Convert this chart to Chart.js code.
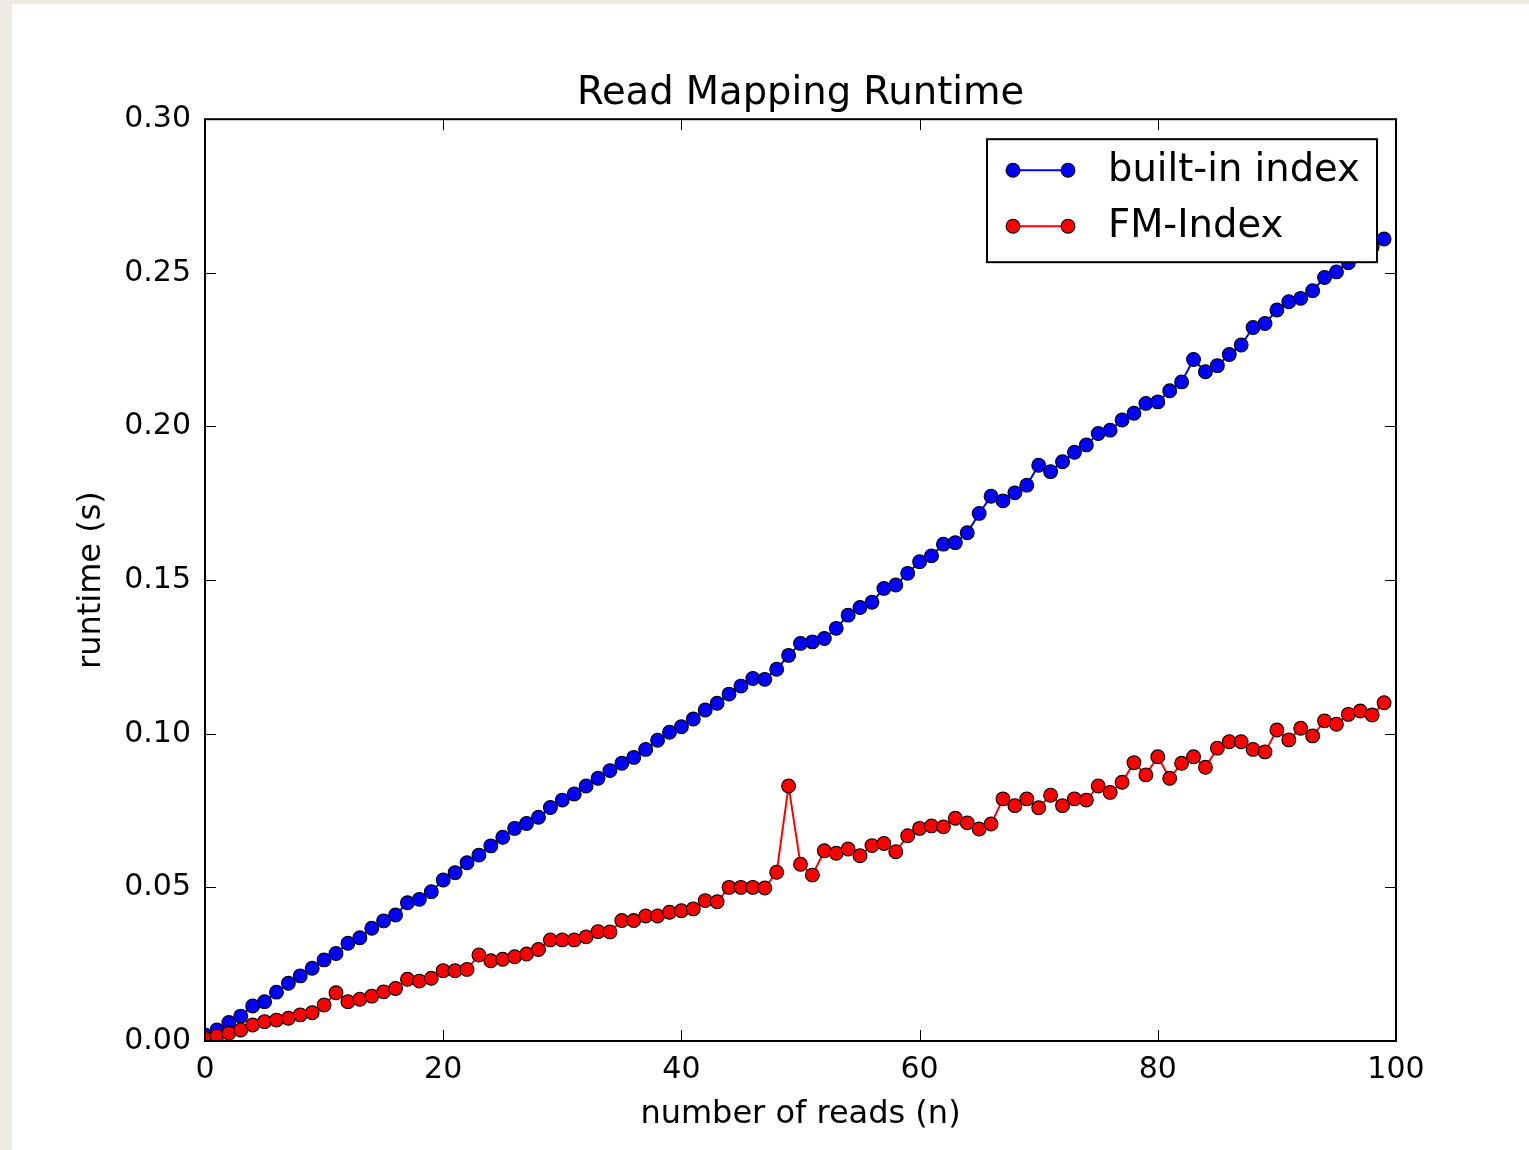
<!DOCTYPE html>
<html>
<head>
<meta charset="utf-8">
<title>Read Mapping Runtime</title>
<script src="https://cdn.jsdelivr.net/npm/chart.js@4.4.1/dist/chart.umd.min.js"></script>
<style>
    html, body { margin: 0; padding: 0; background: #edebe4; }
    #frame { position: absolute; left: 12px; top: 4px; width: 1517px; height: 1146px; background: #ffffff; }
    #runtimeChart { display: block; }
</style>
</head>
<body>
<div id="frame"><canvas id="runtimeChart" width="1517" height="1146"></canvas></div>
<script>
// number of reads (x) and runtimes in seconds
const reads = [
    0, 1, 2, 3, 4, 5, 6, 7, 8, 9, 10, 11, 12, 13, 14, 15, 16, 17, 18, 19,
    20, 21, 22, 23, 24, 25, 26, 27, 28, 29, 30, 31, 32, 33, 34, 35, 36, 37, 38, 39,
    40, 41, 42, 43, 44, 45, 46, 47, 48, 49, 50, 51, 52, 53, 54, 55, 56, 57, 58, 59,
    60, 61, 62, 63, 64, 65, 66, 67, 68, 69, 70, 71, 72, 73, 74, 75, 76, 77, 78, 79,
    80, 81, 82, 83, 84, 85, 86, 87, 88, 89, 90, 91, 92, 93, 94, 95, 96, 97, 98, 99
];

const builtInIndex = [
    0.0020, 0.0036, 0.0060, 0.0081, 0.0114, 0.0128, 0.0159, 0.0188, 0.0212, 0.0237,
    0.0264, 0.0285, 0.0318, 0.0336, 0.0367, 0.0391, 0.0410, 0.0450, 0.0461, 0.0486,
    0.0524, 0.0548, 0.0580, 0.0605, 0.0635, 0.0663, 0.0692, 0.0708, 0.0728, 0.0760,
    0.0784, 0.0804, 0.0830, 0.0855, 0.0880, 0.0904, 0.0923, 0.0949, 0.0979, 0.1005,
    0.1023, 0.1048, 0.1077, 0.1099, 0.1129, 0.1155, 0.1180, 0.1177, 0.1210, 0.1255,
    0.1294, 0.1299, 0.1310, 0.1343, 0.1386, 0.1411, 0.1428, 0.1473, 0.1484, 0.1522,
    0.1560, 0.1579, 0.1617, 0.1622, 0.1654, 0.1717, 0.1773, 0.1758, 0.1784, 0.1809,
    0.1874, 0.1853, 0.1885, 0.1916, 0.1940, 0.1977, 0.1988, 0.2021, 0.2043, 0.2075,
    0.2080, 0.2116, 0.2145, 0.2218, 0.2178, 0.2198, 0.2234, 0.2265, 0.2322, 0.2335,
    0.2379, 0.2406, 0.2417, 0.2442, 0.2485, 0.2503, 0.2533, 0.2560, 0.2585, 0.2610
];

const fmIndex = [
    0.0009, 0.0016, 0.0025, 0.0036, 0.0052, 0.0063, 0.0068, 0.0074, 0.0085, 0.0092,
    0.0117, 0.0157, 0.0128, 0.0136, 0.0146, 0.0160, 0.0171, 0.0201, 0.0195, 0.0204,
    0.0229, 0.0229, 0.0233, 0.0280, 0.0261, 0.0266, 0.0274, 0.0283, 0.0298, 0.0329,
    0.0329, 0.0329, 0.0339, 0.0356, 0.0355, 0.0392, 0.0392, 0.0407, 0.0407, 0.0419,
    0.0424, 0.0430, 0.0457, 0.0453, 0.0500, 0.0500, 0.0500, 0.0498, 0.0549, 0.0830,
    0.0575, 0.0540, 0.0619, 0.0611, 0.0625, 0.0603, 0.0636, 0.0643, 0.0616, 0.0668,
    0.0692, 0.0700, 0.0697, 0.0725, 0.0710, 0.0690, 0.0706, 0.0788, 0.0766, 0.0788,
    0.0759, 0.0800, 0.0766, 0.0788, 0.0784, 0.0830, 0.0809, 0.0842, 0.0906, 0.0866,
    0.0925, 0.0855, 0.0904, 0.0925, 0.0891, 0.0953, 0.0974, 0.0974, 0.0949, 0.0941,
    0.1012, 0.0980, 0.1018, 0.0993, 0.1042, 0.1031, 0.1063, 0.1074, 0.1061, 0.1101
];

const xTicks = [0, 20, 40, 60, 80, 100];
const yTicks = [0, 0.05, 0.10, 0.15, 0.20, 0.25, 0.30];

const FONT = 'DejaVu Sans';
Chart.defaults.color = '#000';
Chart.defaults.font.family = FONT;

function toPoints(xs, ys) {
    return xs.map((x, i) => ({ x: x, y: ys[i] }));
}

// matplotlib-style box: frame on four sides plus inward tick marks
const frameAndTicks = {
    id: 'frameAndTicks',
    afterDatasetsDraw(chart) {
        const { ctx, chartArea: a, scales: { x, y } } = chart;
        const len = 11;
        ctx.save();
        ctx.strokeStyle = '#000';
        ctx.lineWidth = 1;
        ctx.beginPath();
        xTicks.forEach(v => {
            const px = Math.round(x.getPixelForValue(v)) + 0.5;
            ctx.moveTo(px, a.bottom); ctx.lineTo(px, a.bottom - len);
            ctx.moveTo(px, a.top); ctx.lineTo(px, a.top + len);
        });
        yTicks.forEach(v => {
            const py = Math.round(y.getPixelForValue(v)) + 0.5;
            ctx.moveTo(a.left, py); ctx.lineTo(a.left + len, py);
            ctx.moveTo(a.right, py); ctx.lineTo(a.right - len, py);
        });
        ctx.stroke();
        ctx.lineWidth = 2;
        ctx.strokeRect(a.left, a.top, a.right - a.left, a.bottom - a.top);
        ctx.restore();
    }
};

// legend box in the upper right corner of the axes
const insideLegend = {
    id: 'insideLegend',
    afterDraw(chart) {
        const { ctx, chartArea: a } = chart;
        const w = 390, h = 123;
        const left = a.right - 19 - w, top = a.top + 20;
        ctx.save();
        ctx.fillStyle = '#fff';
        ctx.fillRect(left, top, w, h);
        ctx.strokeStyle = '#000';
        ctx.lineWidth = 2;
        ctx.strokeRect(left, top, w, h);
        chart.data.datasets.forEach((ds, i) => {
            const cy = top + 31 + i * 56;
            const x1 = left + 26, x2 = left + 81;
            ctx.strokeStyle = ds.borderColor;
            ctx.lineWidth = ds.borderWidth;
            ctx.beginPath();
            ctx.moveTo(x1, cy); ctx.lineTo(x2, cy);
            ctx.stroke();
            [x1, x2].forEach(cx => {
                ctx.beginPath();
                ctx.arc(cx, cy, ds.pointRadius, 0, Math.PI * 2);
                ctx.fillStyle = ds.pointBackgroundColor;
                ctx.fill();
                ctx.lineWidth = ds.pointBorderWidth;
                ctx.strokeStyle = ds.pointBorderColor;
                ctx.stroke();
            });
            ctx.fillStyle = '#000';
            ctx.font = '38.5px "' + FONT + '"';
            ctx.textAlign = 'left';
            ctx.textBaseline = 'middle';
            ctx.fillText(ds.label, left + 121, cy + 1);
        });
        ctx.restore();
    }
};

function drawRuntimeChart() {
    const el = document.getElementById('runtimeChart').getContext('2d');

    new Chart(el, {
        type: 'line',
        data: {
            datasets: [{
                label: 'built-in index',
                data: toPoints(reads, builtInIndex),
                borderColor: '#0000ff',
                borderWidth: 2,
                pointBackgroundColor: '#0000ff',
                pointBorderColor: '#000',
                pointBorderWidth: 1.1,
                pointRadius: 6.9,
                tension: 0,
                clip: 0,
                order: 1
            }, {
                label: 'FM-Index',
                data: toPoints(reads, fmIndex),
                borderColor: '#ff0000',
                borderWidth: 2,
                pointBackgroundColor: '#ff0000',
                pointBorderColor: '#000',
                pointBorderWidth: 1.1,
                pointRadius: 6.9,
                tension: 0,
                clip: 0,
                order: 0
            }]
        },
        options: {
            responsive: false,
            animation: false,
            layout: { padding: { top: 0, left: 0, right: 133, bottom: 0 } },
            plugins: {
                legend: { display: false },
                tooltip: { enabled: false },
                title: {
                    display: true,
                    fullSize: false,
                    text: 'Read Mapping Runtime',
                    color: '#000',
                    font: { family: FONT, size: 38.5, weight: 'normal' },
                    padding: { top: 67, bottom: 2 }
                }
            },
            scales: {
                x: {
                    type: 'linear',
                    min: 0,
                    max: 100,
                    afterFit: s => { s.height = 109; },
                    afterBuildTicks: s => { s.ticks = xTicks.map(v => ({ value: v })); },
                    grid: { display: false, drawTicks: false },
                    border: { display: false },
                    ticks: {
                        font: { family: FONT, size: 30 },
                        padding: 11,
                        maxRotation: 0,
                        autoSkip: false
                    },
                    title: {
                        display: true,
                        text: 'number of reads (n)',
                        font: { family: FONT, size: 32 },
                        padding: { top: 0, bottom: 16 }
                    }
                },
                y: {
                    type: 'linear',
                    min: 0,
                    max: 0.3,
                    afterFit: s => { s.width = 193; },
                    afterBuildTicks: s => { s.ticks = yTicks.map(v => ({ value: v })); },
                    grid: { display: false, drawTicks: false },
                    border: { display: false },
                    ticks: {
                        font: { family: FONT, size: 30 },
                        padding: 14,
                        callback: v => v.toFixed(2)
                    },
                    title: {
                        display: true,
                        text: 'runtime (s)',
                        font: { family: FONT, size: 32 },
                        padding: { top: 60, bottom: 0 }
                    }
                }
            }
        },
        plugins: [frameAndTicks, insideLegend]
    });
}

drawRuntimeChart();
</script>
</body>
</html>
